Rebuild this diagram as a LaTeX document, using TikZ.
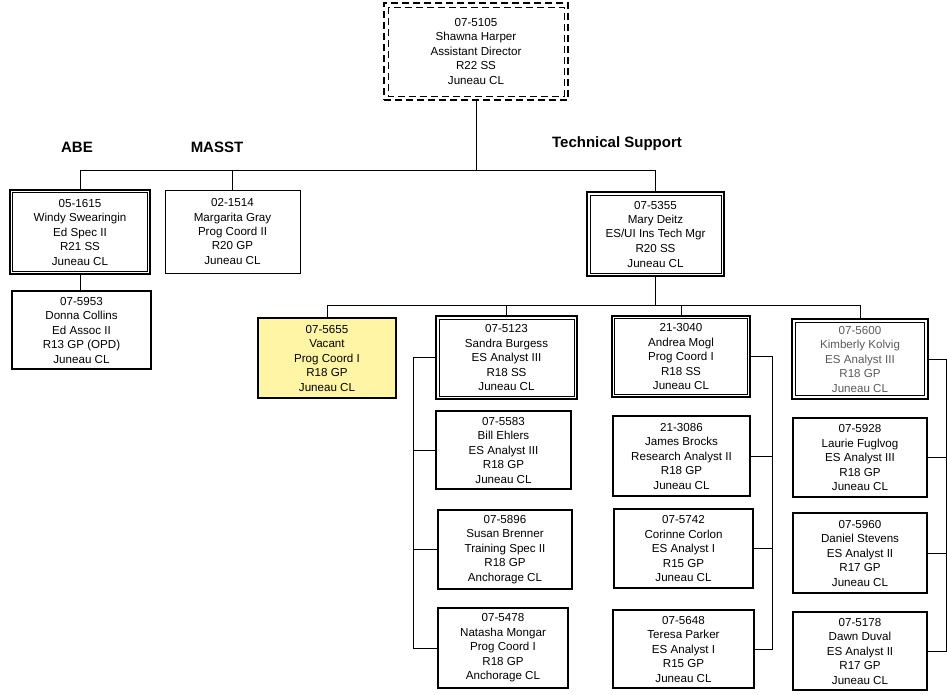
\documentclass[tikz,border=0pt]{standalone}
\usepackage{fontspec}
\setmainfont{Liberation Sans}
\definecolor{vacantyellow}{RGB}{255,245,165}
\definecolor{greytext}{RGB}{90,90,90}
\tikzset{
  x=1pt, y=-1pt,
  pbox/.style={draw, align=center, inner sep=0pt, font=\fontsize{11.6}{14.5}\selectfont, line width=#1},
  pbox/.default=1.2pt,
  conn/.style={line width=1pt},
  head/.style={font=\fontsize{15}{18}\selectfont\bfseries, inner sep=0pt},
  innerframe/.style={line width=0.8pt},
}
\begin{document}
\begin{tikzpicture}
\useasboundingbox (0,0) rectangle (947,694);

% heads
\node[head] (abe) at (77,147) {ABE};
\node[head] (masst) at (217,147) {MASST};
\node[head] (tech) at (617,144) {Technical Support};

% top box
\node[pbox=2pt, dash pattern=on 7pt off 4pt, minimum width=184pt, minimum height=97pt] (top) at (476,51.5)
  {07-5105\\Shawna Harper\\Assistant Director\\R22 SS\\Juneau CL};
\draw[line width=1pt, dash pattern=on 7pt off 4pt] ([shift={(5pt,-5pt)}]top.north west) rectangle ([shift={(-5pt,5pt)}]top.south east);

% left
\node[pbox=2.5pt, minimum width=140pt, minimum height=84pt] (windy) at (80,232)
  {05-1615\\Windy Swearingin\\Ed Spec II\\R21 SS\\Juneau CL};
\node[pbox=1pt, minimum width=135pt, minimum height=83pt] (margarita) at (232.5,231.5)
  {02-1514\\Margarita Gray\\Prog Coord II\\R20 GP\\Juneau CL};
\node[pbox=1.3pt, minimum width=139pt, minimum height=78pt] (donna) at (81.5,330)
  {07-5953\\Donna Collins\\Ed Assoc II\\R13 GP (OPD)\\Juneau CL};

% technical support
\node[pbox=1.8pt, minimum width=137pt, minimum height=84pt] (mary) at (655.5,234)
  {07-5355\\Mary Deitz\\ES/UI Ins Tech Mgr\\R20 SS\\Juneau CL};

\node[pbox=1.3pt, fill=vacantyellow, minimum width=138pt, minimum height=80pt] (vacant) at (327,358)
  {07-5655\\Vacant\\Prog Coord I\\R18 GP\\Juneau CL};

\node[pbox=2pt, minimum width=141pt, minimum height=83pt] (sandra) at (506.5,357.5)
  {07-5123\\Sandra Burgess\\ES Analyst III\\R18 SS\\Juneau CL};
\node[pbox=2pt, minimum width=135pt, minimum height=78pt] (bill) at (503.5,450)
  {07-5583\\Bill Ehlers\\ES Analyst III\\R18 GP\\Juneau CL};
\node[pbox=2pt, minimum width=134pt, minimum height=79pt] (susan) at (505,549.5)
  {07-5896\\Susan Brenner\\Training Spec II\\R18 GP\\Anchorage CL};
\node[pbox=1.3pt, minimum width=130pt, minimum height=80pt] (natasha) at (503,648)
  {07-5478\\Natasha Mongar\\Prog Coord I\\R18 GP\\Anchorage CL};

\node[pbox=1.8pt, minimum width=138pt, minimum height=81pt] (andrea) at (681,356.5)
  {21-3040\\Andrea Mogl\\Prog Coord I\\R18 SS\\Juneau CL};
\node[pbox=2pt, minimum width=137pt, minimum height=80pt] (james) at (681.5,456)
  {21-3086\\James Brocks\\Research Analyst II\\R18 GP\\Juneau CL};
\node[pbox=2pt, minimum width=139pt, minimum height=79pt] (corinne) at (683.5,548.5)
  {07-5742\\Corinne Corlon\\ES Analyst I\\R15 GP\\Juneau CL};
\node[pbox=2pt, minimum width=141pt, minimum height=78pt] (teresa) at (683.5,649)
  {07-5648\\Teresa Parker\\ES Analyst I\\R15 GP\\Juneau CL};

\node[pbox=1.3pt, text=greytext, minimum width=136pt, minimum height=80pt] (kimberly) at (860,359)
  {07-5600\\Kimberly Kolvig\\ES Analyst III\\R18 GP\\Juneau CL};
\node[pbox=1.3pt, minimum width=134pt, minimum height=79pt] (laurie) at (860,457.5)
  {07-5928\\Laurie Fuglvog\\ES Analyst III\\R18 GP\\Juneau CL};
\node[pbox=1.3pt, minimum width=134pt, minimum height=80pt] (daniel) at (860,553)
  {07-5960\\Daniel Stevens\\ES Analyst II\\R17 GP\\Juneau CL};
\node[pbox=1.3pt, minimum width=134pt, minimum height=78pt] (dawn) at (860,651)
  {07-5178\\Dawn Duval\\ES Analyst II\\R17 GP\\Juneau CL};

% inner frames of double boxes
\foreach \n/\d in {windy/4pt, mary/4pt, sandra/4pt, andrea/3.5pt, kimberly/4pt}
  \draw[innerframe] ([shift={(\d,-\d)}]\n.north west) rectangle ([shift={(-\d,\d)}]\n.south east);

% buses
\coordinate (bus1) at (0,170);
\coordinate (bus2) at (0,305);
\coordinate (sx) at (413,0);
\coordinate (ax) at (772,0);
\coordinate (kx) at (946,0);

\draw[conn] (top.south) -- (top.south |- bus1);
\draw[conn] (windy.north |- bus1) -- (mary.north |- bus1);
\draw[conn] (windy.north) -- (windy.north |- bus1);
\draw[conn] (margarita.north) -- (margarita.north |- bus1);
\draw[conn] (mary.north) -- (mary.north |- bus1);
\draw[conn] (windy.south) -- (windy.south |- donna.north);

\draw[conn] (mary.south) -- (mary.south |- bus2);
\draw[conn] (vacant.north |- bus2) -- (kimberly.north |- bus2);
\draw[conn] (vacant.north) -- (vacant.north |- bus2);
\draw[conn] (sandra.north) -- (sandra.north |- bus2);
\draw[conn] (andrea.north) -- (andrea.north |- bus2);
\draw[conn] (kimberly.north) -- (kimberly.north |- bus2);

\draw[conn] (sandra.west) -| (natasha.west -| sx) -- (natasha.west);
\draw[conn] (bill.west) -- (bill.west -| sx);
\draw[conn] (susan.west) -- (susan.west -| sx);

\draw[conn] (andrea.east) -| (teresa.east -| ax) -- (teresa.east);
\draw[conn] (james.east) -- (james.east -| ax);
\draw[conn] (corinne.east) -- (corinne.east -| ax);

\draw[conn] (kimberly.east) -| (dawn.east -| kx) -- (dawn.east);
\draw[conn] (laurie.east) -- (laurie.east -| kx);
\draw[conn] (daniel.east) -- (daniel.east -| kx);
\end{tikzpicture}
\end{document}
